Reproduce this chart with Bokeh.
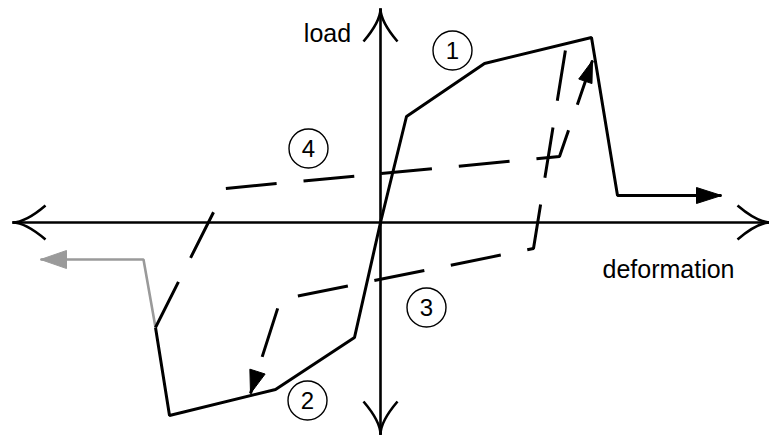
import numpy as np
from bokeh.plotting import figure
from bokeh.models import Range1d
from bokeh.core.properties import value
from bokeh.embed import file_html
from bokeh.resources import INLINE

# ---- data (deformation, load) in schematic units, origin at axes crossing ----
envelope_pos_x = [0, 26, 104, 211, 237, 341]
envelope_pos_y = [0, 106, 159, 185, 27, 27]
envelope_neg_x = [0, -26, -105, -211, -225]
envelope_neg_y = [0, -115, -167, -193, -105]
residual_neg_x = [-225, -237, -340]
residual_neg_y = [-105, -37, -37]
reload_x = [-225, -155, 179, 212]      # branch 4
reload_y = [-105, 34, 66, 162]
unload_x = [186, 153, -100, -130]      # branch 3
unload_y = [179, -26, -77, -171]

label_x = [72, -73, 46, -72]
label_y = [172, -178, -85, 74]
label_text = ["1", "2", "3", "4"]

axis_x_label = "deformation"
axis_y_label = "load"

FONT = value("Liberation Sans")

W_PX, H_PX = 769, 435
p = figure(width=W_PX, height=H_PX, x_range=Range1d(-380, -380 + W_PX), y_range=Range1d(222 - H_PX, 222),
           output_backend="svg", toolbar_location=None, min_border=0)
p.axis.visible = False
p.grid.visible = False
p.outline_line_color = None
p.background_fill_color = "white"
p.border_fill_color = "white"


def head(xs, ys, length, half):
    x0, y0, x1, y1 = xs[-2], ys[-2], xs[-1], ys[-1]
    d = np.hypot(x1 - x0, y1 - y0)
    ux, uy = (x1 - x0) / d, (y1 - y0) / d
    bx, by = x1 - length * ux, y1 - length * uy
    nx, ny = -uy, ux
    return [x1, bx + half * nx, bx - half * nx], [y1, by + half * ny, by - half * ny]


# axes lines
p.line([-368, 390], [0, 0], line_color="black", line_width=2.6)
p.line([0, 0], [-214, 214], line_color="black", line_width=2.6)

# curved open arrowheads at axis ends
for tip, u in [((-368, 0), (-1, 0)), ((390, 0), (1, 0)), ((0, 214), (0, 1)), ((0, -212), (0, -1))]:
    tx, ty = tip
    ux, uy = u
    nx, ny = -uy, ux
    L, W, C = 33, 17, 13
    for s in (1, -1):
        p.quadratic(x0=tx, y0=ty,
                    x1=tx - L * ux + s * W * nx, y1=ty - L * uy + s * W * ny,
                    cx=tx - C * ux, cy=ty - C * uy,
                    line_color="black", line_width=2.6)

# envelope
p.line(envelope_pos_x, envelope_pos_y, line_color="black", line_width=3)
p.line(envelope_neg_x, envelope_neg_y, line_color="black", line_width=3)
hx, hy = head(envelope_pos_x, envelope_pos_y, 25, 8)
p.patch(hx, hy, fill_color="black", line_color="black", line_width=1)

# residual (grey)
p.line(residual_neg_x, residual_neg_y, line_color="#9a9a9a", line_width=2.6)
hx, hy = head(residual_neg_x, residual_neg_y, 26, 9)
p.patch(hx, hy, fill_color="#9a9a9a", line_color="#9a9a9a", line_width=1)

# dashed hysteresis branches
p.line(reload_x, reload_y, line_color="black", line_width=3, line_dash="51 27")
hx, hy = head(reload_x, reload_y, 22, 7)
p.patch(hx, hy, fill_color="black", line_color="black", line_width=1)

p.line(unload_x, unload_y, line_color="black", line_width=3, line_dash="51 27", line_dash_offset=71)
hx, hy = head(unload_x, unload_y, 23, 8)
p.patch(hx, hy, fill_color="black", line_color="black", line_width=1)

# circled branch numbers
p.scatter(label_x, label_y, marker="circle", size=39, fill_color=None, line_color="black", line_width=1.4)
p.text(label_x, label_y, text=label_text, text_font=FONT, text_font_size="24px",
       text_align="center", text_baseline="middle", text_color="black")

# axis titles
p.text([-53], [190], text=[axis_y_label], text_font=FONT, text_font_size="25px",
       text_align="center", text_baseline="alphabetic", text_color="black")
p.text([288], [-46], text=[axis_x_label], text_font=FONT, text_font_size="25px",
       text_align="center", text_baseline="alphabetic", text_color="black")

open("out.html", "w").write(file_html(p, INLINE))
